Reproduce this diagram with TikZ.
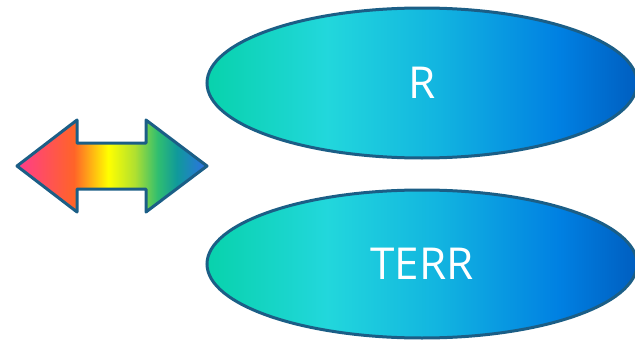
\documentclass[tikz,border=0pt]{standalone}
\usepackage{fontspec}
\setmainfont{Open Sans}
\usepackage{tikz}
\usetikzlibrary{shapes.geometric}
\usetikzlibrary{positioning}

\definecolor{rimblue}{HTML}{1B5E86}
\definecolor{seaA}{HTML}{08D2AC}
\definecolor{seaB}{HTML}{22D7DC}
\definecolor{seaC}{HTML}{12B4E0}
\definecolor{seaD}{HTML}{0080E2}
\definecolor{seaE}{HTML}{005EC0}
\definecolor{bowA}{HTML}{FF3C8C}
\definecolor{bowB}{HTML}{FF6428}
\definecolor{bowC}{HTML}{FFFF00}
\definecolor{bowD}{HTML}{B0E030}
\definecolor{bowE}{HTML}{30BE70}
\definecolor{bowF}{HTML}{109A9A}
\definecolor{bowG}{HTML}{2E6FE8}

\pgfdeclarehorizontalshading{oceanfill}{100bp}{color(0bp)=(seaA); color(25bp)=(seaA); color(39bp)=(seaB); color(52bp)=(seaC); color(66bp)=(seaD); color(75bp)=(seaE); color(100bp)=(seaE)}
\pgfdeclarehorizontalshading{rainbowfill}{100bp}{color(0bp)=(bowA); color(25bp)=(bowA); color(40bp)=(bowB); color(49bp)=(bowC); color(56bp)=(bowD); color(62bp)=(bowE); color(67bp)=(bowF); color(75bp)=(bowG); color(100bp)=(bowG)}

\tikzset{
    blob/.style={ellipse, draw=rimblue, line width=3pt, shading=oceanfill, text=white,
        font=\fontsize{44}{52}\selectfont, minimum width=430pt, minimum height=150pt, inner sep=0pt},
    swaparrow/.style={draw=rimblue, line width=3pt, shading=rainbowfill, line join=round}
}

\begin{document}
\begin{tikzpicture}[x=1pt,y=-1pt]
        \useasboundingbox (0,0) rectangle (635,340);
        \draw[swaparrow] (17,166) -- (77,120) -- (77,143) -- (146,143) -- (146,120) -- (207,166)
            -- (146,212) -- (146,189) -- (77,189) -- (77,212) -- cycle;
        \node[blob] (rnode) at (422,83) {R};
        \node[blob, minimum height=148pt] (terr) at (422,264) {TERR};
    \end{tikzpicture}
\end{document}
